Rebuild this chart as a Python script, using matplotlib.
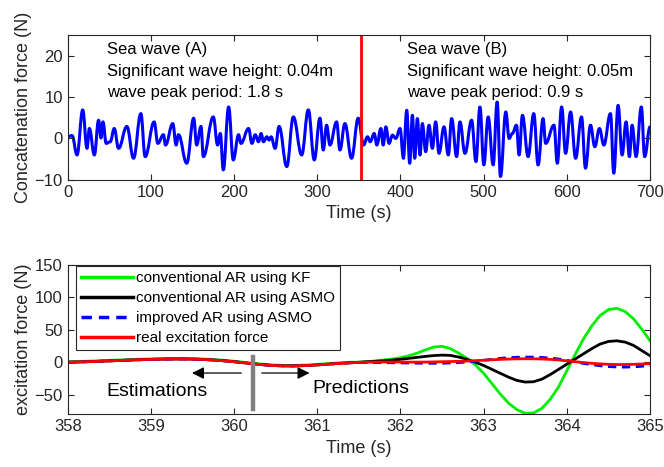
import numpy as np
import matplotlib
matplotlib.use('Agg')
import matplotlib.pyplot as plt
from matplotlib.path import Path
from matplotlib.patches import PathPatch

plt.rcParams['font.family'] = ['Liberation Sans', 'DejaVu Sans']

# ---- top panel: concatenated sea wave (extrema) ----
wave_t = [0, 5.2, 11.2, 18.0, 23.2, 26.0, 32.0, 37.1, 40.0, 42.3, 46.3, 51.1, 55.9, 61.1,
          71.1, 79.1, 87.9, 93.1, 103.9, 108.3, 115.1, 117.5, 126.3, 130.3, 133.1, 143.1,
          151.4, 155.0, 160.2, 163.0, 175.0, 180.2, 183.4, 187.0, 193.4, 199.0, 205.4,
          208.2, 217.4, 221.4, 225.4, 229.3, 232.5, 235.3, 239.3, 242.1, 244.5, 249.3,
          254.1, 263.3, 271.2, 281.2, 289.2, 296.4, 303.2, 307.2, 311.2, 315.2, 323.2,
          327.2, 333.2, 341.2, 349.2, 355.6, 360.4, 363.6, 368.4, 371.6, 376.4, 379.2,
          382.4, 386.3, 390.3, 394.3, 399.5, 403.5, 407.5, 411.1, 414.3, 417.1, 420.3,
          423.5, 426.3, 430.3, 434.3, 438.3, 442.3, 446.3, 452.3, 457.5, 461.5, 467.5,
          471.5, 477.5, 485.5, 490.7, 495.5, 500.2, 505.4, 511.4, 516.2, 520.2, 526.6,
          530.6, 534.5, 539.4, 542.6, 546.6, 553.4, 560.2, 565.4, 571.4, 574.5, 584.5,
          588.5, 593.7, 598.5, 604.5, 610.5, 617.6, 622.4, 628.4, 633.6, 639.2, 644.4,
          652.4, 656.4, 661.6, 666.4, 671.2, 675.2, 678.4, 683.2, 689.5, 693.5, 700.0]
wave_f = [0.4, 0.7, -4.0, 6.9, -2.4, 2.4, -4.0, 4.4, 0.1, 4.0, -1.2, -0.8, 2.4, -2.4,
          2.9, -4.8, 6.0, -4.4, 4.0, -1.2, 0.9, -1.6, 3.6, -1.6, 0.9, -6.0,
          4.9, -1.6, 2.9, -4.4, 5.2, -1.6, 1.2, -7.6, 7.6, -5.2, 0.9,
          -1.2, 2.4, -1.2, 0.9, -0.8, 1.2, -0.8, 0.4, -0.4, 0.4, -2.4,
          2.9, -6.8, 5.2, -4.0, 6.9, -5.2, 4.9, -2.8, 3.2, -1.6, 4.0,
          -2.8, 3.6, -4.8, 4.9, -1.6, 0.4, -0.8, 1.2, -1.6, 2.4, -1.6,
          2.8, -1.2, 0.8, 0.0, 2.4, -4.8, 6.8, -6.0, 5.6, -4.8, 4.8,
          -4.0, 3.6, -3.2, 3.2, -2.4, 4.0, -3.6, 2.8, -4.0, 4.8, -4.4,
          4.0, -3.6, 4.4, -5.6, 7.6, -6.4, 5.2, -6.4, 8.8, -9.2, 6.4,
          0.0, 1.2, 3.2, -4.0, 5.6, -4.4, 6.0, -6.4, 4.8, -1.2, 3.2,
          -6.0, 7.6, -3.6, 6.4, -4.8, 5.2, -7.2, 3.2, -2.0, 2.4, -1.6,
          6.0, -8.4, 8.0, -4.0, 4.0, -4.4, 3.2, -4.4, 7.6, -4.4, 2.8]
switch_t = 353

# ---- bottom panel: estimation / prediction of excitation force ----
est_t = [358.0, 358.1, 358.2, 358.3, 358.4, 358.5, 358.6, 358.7, 358.8, 358.9,
         359.0, 359.1, 359.2, 359.3, 359.4, 359.5, 359.6, 359.7, 359.8, 359.9,
         360.0, 360.1, 360.2, 360.3, 360.4, 360.5, 360.6, 360.7, 360.8, 360.9,
         361.0, 361.1, 361.2, 361.3, 361.4]
est_f = [0.0, 0.3, 0.7, 1.1, 1.6, 2.1, 2.6, 3.1, 3.6, 4.0,
         4.4, 4.7, 4.9, 5.0, 5.0, 4.8, 4.4, 3.8, 3.0, 2.0,
         0.8, -0.6, -2.0, -3.3, -4.4, -5.2, -5.6, -5.7, -5.4, -4.9,
         -4.1, -3.2, -2.3, -1.5, -0.8]

pred_t = [361.5, 361.6, 361.7, 361.8, 361.9, 362.0, 362.1, 362.2, 362.3, 362.4,
          362.5, 362.6, 362.7, 362.8, 362.9, 363.0, 363.1, 363.2, 363.3, 363.4,
          363.5, 363.6, 363.7, 363.8, 363.9, 364.0, 364.1, 364.2, 364.3, 364.4,
          364.5, 364.6, 364.7, 364.8, 364.9, 365.0]
kf_ar = [0.0, 1.0, 2.0, 3.5, 5.0, 7.0, 10.0, 14.0, 19.0, 23.5,
         24.5, 21.0, 14.0, 6.0, -4.0, -17.0, -33.0, -49.0, -63.0, -73.0,
         -78.5, -78.0, -71.0, -57.0, -38.0, -13.0, 12.0, 36.0, 56.0, 72.0,
         81.0, 83.0, 78.0, 67.0, 51.0, 33.0]
asmo_ar = [0.0, 0.8, 1.5, 2.2, 3.2, 4.5, 6.0, 7.5, 9.0, 10.3,
           11.0, 10.5, 8.0, 4.5, 0.0, -5.0, -11.0, -17.0, -23.0, -28.0,
           -30.5, -30.0, -26.0, -19.0, -11.0, -3.0, 5.0, 13.0, 21.0, 28.0,
           32.0, 33.0, 31.0, 26.0, 18.0, 10.0]
asmo_iar = [-0.3, -0.4, -0.5, -0.6, -0.8, -1.0, -1.2, -1.4, -1.5, -1.6,
            -1.5, -1.1, -0.5, 0.4, 1.5, 3.0, 4.5, 6.0, 7.0, 7.7,
            8.0, 7.9, 7.4, 6.4, 5.0, 3.0, 0.5, -1.8, -3.8, -5.4,
            -6.6, -7.3, -7.5, -7.1, -6.2, -5.0]
real_f = [-0.3, 0.1, 0.3, 0.4, 0.4, 0.3, 0.2, 0.2, 0.3, 0.5,
          0.8, 1.1, 1.4, 1.8, 2.4, 3.1, 3.8, 4.4, 4.9, 5.2,
          5.4, 5.3, 5.0, 4.4, 3.5, 2.2, 0.8, -0.5, -1.6, -2.5,
          -3.2, -3.5, -3.5, -3.2, -2.7, -2.1]

split_t = 360.23
arrow_y = -16.6

ax_col = (0.15, 0.15, 0.15)

def style(ax):
    ax.tick_params(direction='in', top=True, right=True, length=4, width=0.8,
                   labelsize=12, colors=ax_col, labelcolor=ax_col)
    for s in ax.spines.values():
        s.set_color(ax_col)
        s.set_linewidth(0.8)

def wave_path(t, f):
    # bezier through the extrema, flat tangent at each one
    verts = [(t[0], f[0])]
    codes = [Path.MOVETO]
    for i in range(1, len(t)):
        dt = t[i] - t[i-1]
        verts += [(t[i-1] + dt*0.4, f[i-1]), (t[i] - dt*0.4, f[i]), (t[i], f[i])]
        codes += [Path.CURVE4]*3
    return Path(verts, codes)

fig = plt.figure(figsize=(6.64, 4.67), dpi=100)
ax1 = fig.add_axes([0.102, 0.615, 0.877, 0.310])
ax2 = fig.add_axes([0.102, 0.113, 0.877, 0.320])

# top
ax1.add_patch(PathPatch(wave_path(wave_t, wave_f), fill=False, edgecolor='#0000ff',
                        lw=2.2, capstyle='round', joinstyle='round'))
ax1.axvline(switch_t, color='#ff0000', lw=2.0)
ax1.set_xlim(0, 700)
ax1.set_ylim(-10, 25)
ax1.set_xticks(np.arange(0, 701, 100))
ax1.set_yticks([-10, 0, 10, 20])
ax1.set_xlabel('Time (s)', fontsize=13, color=ax_col)
ax1.set_ylabel('Concatenation force (N)', fontsize=13, color=ax_col, labelpad=2)
for y, s in zip([21.6, 16.3, 11.1],
                ['Sea wave (A)', 'Significant wave height: 0.04m', 'wave peak period: 1.8 s']):
    ax1.text(46.7, y, s, fontsize=12, va='center', ha='left')
for y, s in zip([21.6, 16.3, 11.1],
                ['Sea wave (B)', 'Significant wave height: 0.05m', 'wave peak period: 0.9 s']):
    ax1.text(407.5, y, s, fontsize=12, va='center', ha='left')
style(ax1)

# bottom
t_all = est_t + pred_t
ax2.plot(t_all, [v + 0.8 for v in est_f] + kf_ar, color='#00ee00', lw=2.0,
         label='conventional AR using KF')
ax2.plot(t_all, est_f + asmo_ar, color='black', lw=2.0,
         label='conventional AR using ASMO')
ax2.plot(t_all, est_f + asmo_iar, color='#0000ff', lw=2.0, ls=(0, (3, 2)),
         label='improved AR using ASMO')
ax2.plot(t_all, est_f + real_f, color='#ff0000', lw=2.0,
         label='real excitation force')
ax2.plot([split_t, split_t], [8, -72], color='gray', lw=3.2)
ax2.annotate('', xy=(359.46, arrow_y), xytext=(360.12, arrow_y),
             arrowprops=dict(arrowstyle='-|>', color='black', lw=0.9, mutation_scale=18))
ax2.annotate('', xy=(360.94, arrow_y), xytext=(360.30, arrow_y),
             arrowprops=dict(arrowstyle='-|>', color='black', lw=0.9, mutation_scale=18))
ax2.text(359.07, -45, 'Estimations', fontsize=14, ha='center', va='center')
ax2.text(360.94, -40, 'Predictions', fontsize=14, ha='left', va='center')
ax2.set_xlim(358, 365)
ax2.set_ylim(-80, 150)
ax2.set_yticks([-50, 0, 50, 100, 150])
ax2.set_xlabel('Time (s)', fontsize=13, color=ax_col)
ax2.set_ylabel('excitation force (N)', fontsize=13, color=ax_col, labelpad=2)
leg = ax2.legend(loc='upper left', bbox_to_anchor=(0.015, 0.99), borderaxespad=0,
                 fontsize=11, fancybox=False, framealpha=1, edgecolor=ax_col,
                 handlelength=3.4, handletextpad=0.2, labelspacing=0.4,
                 borderpad=0.3)
leg.get_frame().set_linewidth(0.8)
for l in leg.get_lines():
    l.set_linewidth(2.5)
style(ax2)

fig.savefig('out.png', dpi=100)
